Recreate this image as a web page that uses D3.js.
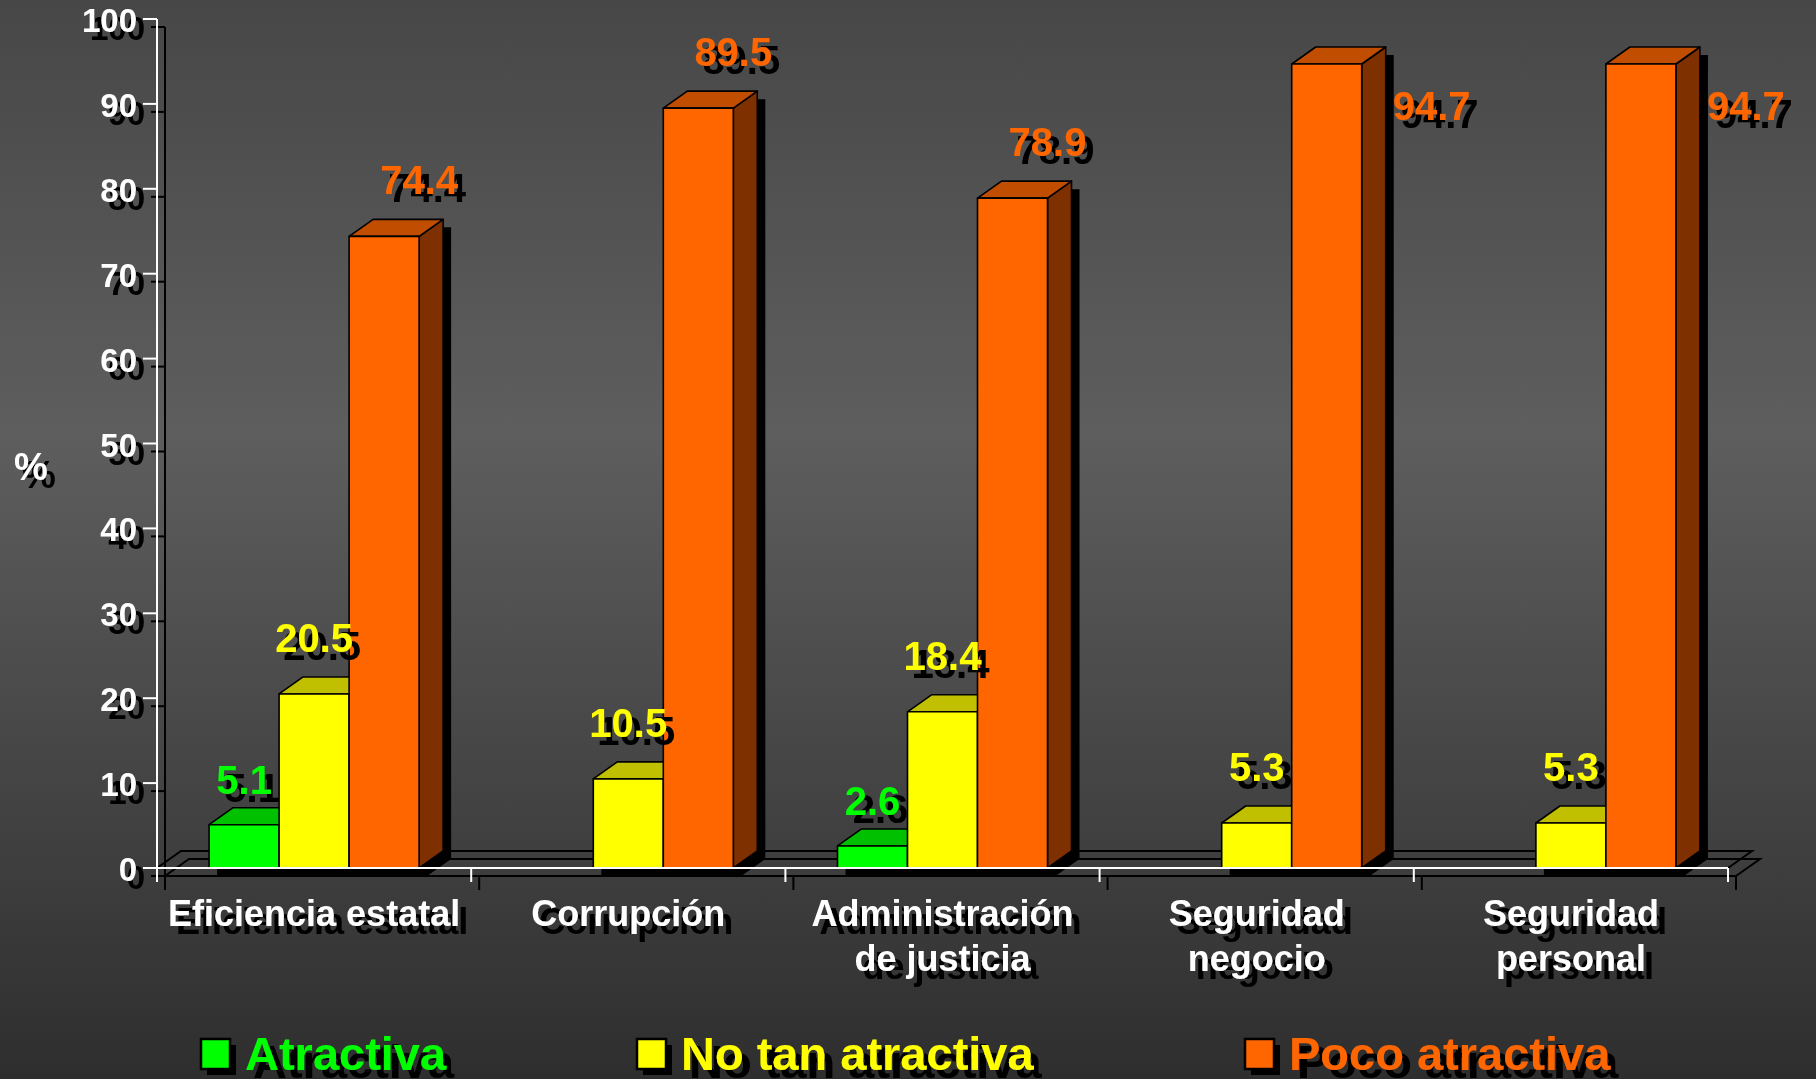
<!DOCTYPE html>
<html>
<head>
<meta charset="utf-8">
<script src="https://cdn.jsdelivr.net/npm/d3@7"></script>
<style>
  html, body { margin: 0; padding: 0; background: #3a3a3a; overflow: hidden; }
  svg { display: block; }
  text { font-family: "Liberation Sans", Arial, sans-serif; font-weight: bold; }
</style>
</head>
<body>
<script>
// Data
const categories = ['Eficiencia estatal', 'Corrupción', 'Administración\nde justicia', 'Seguridad\nnegocio', 'Seguridad\npersonal'];
const seriesNames = ['Atractiva', 'No tan atractiva', 'Poco atractiva'];
const atractiva = [5.1, null, 2.6, null, null];
const noTanAtractiva = [20.5, 10.5, 18.4, 5.3, 5.3];
const pocoAtractiva = [74.4, 89.5, 78.9, 94.7, 94.7];
const yTicks = [0, 10, 20, 30, 40, 50, 60, 70, 80, 90, 100];

const seriesValues = [atractiva, noTanAtractiva, pocoAtractiva];

// Colors: front, top, side
const colors = [
  { front: '#00ff00', top: '#00c000', side: '#008000' },
  { front: '#ffff00', top: '#c0c000', side: '#808000' },
  { front: '#ff6600', top: '#c04d00', side: '#7f3000' }
];

// Size
const w = 1816;
const h = 1079;
const dx = 24;   // depth offset x
const dy = -17;  // depth offset y
const sh = 8;    // shadow offset

const svg = d3.select('body').append('svg').attr('width', w).attr('height', h);
const defs = svg.append('defs');

// Background gradient
const grad = defs.append('linearGradient')
  .attr('id', 'bg').attr('x1', 0).attr('y1', 0).attr('x2', 0).attr('y2', 1);
grad.append('stop').attr('offset', '0%').attr('stop-color', '#474747');
grad.append('stop').attr('offset', '40%').attr('stop-color', '#5e5e5e');
grad.append('stop').attr('offset', '100%').attr('stop-color', '#2e2e2e');

// Text shadow filter (solid black copy, offset)
const f = defs.append('filter').attr('id', 'shadow')
  .attr('x', '-20%').attr('y', '-30%').attr('width', '160%').attr('height', '180%');
f.append('feOffset').attr('in', 'SourceAlpha').attr('dx', sh).attr('dy', sh).attr('result', 'off');
const fm = f.append('feMerge');
fm.append('feMergeNode').attr('in', 'off');
fm.append('feMergeNode').attr('in', 'SourceGraphic');

svg.append('rect').attr('width', w).attr('height', h).attr('fill', 'url(#bg)');

// Scales
const x = d3.scaleBand().domain(categories).range([157, 1728]).paddingInner(0).paddingOuter(0);
const xs = d3.scaleBand().domain(seriesNames).range([0, x.bandwidth()])
  .paddingInner(0).paddingOuter(0.744);
const y = d3.scaleLinear().domain([0, 100]).range([868, 19]);

const x0 = x.range()[0];
const x1 = x.range()[1];
const y0 = y(0);

// Floor (shadow then line)
const floorPts = [[x0, y0], [x0 + dx, y0 + dy], [x1 + dx, y0 + dy], [x1, y0]];
[sh, 0].forEach(o => {
  svg.append('polyline')
    .attr('points', floorPts.map(p => [p[0] + o, p[1] + o].join(',')).join(' '))
    .attr('fill', 'none').attr('stroke', '#000').attr('stroke-width', 2);
});

// Flatten bars
const bars = [];
categories.forEach((c, i) => {
  seriesNames.forEach((s, j) => {
    const v = seriesValues[j][i];
    if (v == null) return;
    bars.push({ cat: c, series: s, j: j, value: v, x: x(c) + xs(s), w: xs.bandwidth(), yt: y(v) });
  });
});

const silhouette = d => [
  [d.x, y0], [d.x, d.yt], [d.x + dx, d.yt + dy], [d.x + d.w + dx, d.yt + dy],
  [d.x + d.w + dx, y0 + dy], [d.x + d.w, y0]
];
const pts = arr => arr.map(p => p.join(',')).join(' ');

// Bar shadows
svg.append('g').selectAll('polygon')
  .data(bars).join('polygon')
  .attr('points', d => pts(silhouette(d).map(p => [p[0] + sh, p[1] + sh])))
  .attr('fill', '#000');

// Bars
const barG = svg.append('g').selectAll('g').data(bars).join('g')
  .attr('stroke', '#000').attr('stroke-width', 1.6).attr('stroke-linejoin', 'round');

barG.append('polygon')
  .attr('points', d => pts([[d.x + d.w, d.yt], [d.x + d.w + dx, d.yt + dy], [d.x + d.w + dx, y0 + dy], [d.x + d.w, y0]]))
  .attr('fill', d => colors[d.j].side);
barG.append('polygon')
  .attr('points', d => pts([[d.x, d.yt], [d.x + dx, d.yt + dy], [d.x + d.w + dx, d.yt + dy], [d.x + d.w, d.yt]]))
  .attr('fill', d => colors[d.j].top);
barG.append('rect')
  .attr('x', d => d.x).attr('y', d => d.yt)
  .attr('width', d => d.w).attr('height', d => y0 - d.yt)
  .attr('fill', d => colors[d.j].front);

// Axes: shadow (black, offset) then white
[{ o: sh, c: '#000' }, { o: 0, c: '#fff' }].forEach(a => {
  const g = svg.append('g').attr('transform', `translate(${a.o},${a.o})`)
    .attr('stroke', a.c).attr('stroke-width', 2).attr('fill', 'none');
  g.append('line').attr('x1', x0).attr('x2', x0).attr('y1', y(100)).attr('y2', y0 + 14);
  g.append('line').attr('x1', x0 - 14).attr('x2', x1).attr('y1', y0).attr('y2', y0);
  g.selectAll('.yt').data(yTicks).join('line')
    .attr('x1', x0 - 14).attr('x2', x0).attr('y1', d => y(d)).attr('y2', d => y(d));
  const bounds = categories.map(c => x(c)).concat([x1]);
  g.selectAll('.xt').data(bounds).join('line')
    .attr('x1', d => d).attr('x2', d => d).attr('y1', y0).attr('y2', y0 + 14);
});

// Text with drop shadow
function shadowText(parent, xp, yp, str, size, color, anchor) {
  return parent.append('text').attr('x', xp).attr('y', yp).attr('font-size', size)
    .attr('text-anchor', anchor).attr('fill', color).attr('filter', 'url(#shadow)').text(str);
}

// Y tick labels
const labelG = svg.append('g');
yTicks.forEach(t => shadowText(labelG, 137, y(t) + 13, String(t), 33, '#fff', 'end'));

// % label
shadowText(labelG, 31, 480, '%', 38, '#fff', 'middle');

// Category labels
categories.forEach(c => {
  const cx = x(c) + x.bandwidth() / 2;
  c.split('\n').forEach((line, k) => {
    shadowText(labelG, cx, 926 + k * 45, line, 36, '#fff', 'middle');
  });
});

// Value labels
const labelGap = [31, 42, 42];
bars.forEach(d => {
  const str = d3.format('.1f')(d.value);
  if (d.value > 90) {
    shadowText(labelG, d.x + d.w + dx + 7, d.yt + 56, str, 40, colors[d.j].front, 'start');
  } else {
    const cx = d.x + d.w / 2 + (d.j === 2 ? d.w / 2 : 0);
    shadowText(labelG, cx, d.yt - labelGap[d.j], str, 40, colors[d.j].front, 'middle');
  }
});

// Legend
const legendX = [201, 637, 1245];
const legG = svg.append('g');
seriesNames.forEach((s, j) => {
  const lx = legendX[j];
  legG.append('rect').attr('x', lx + 6).attr('y', 1039 + 6).attr('width', 29).attr('height', 30).attr('fill', '#000');
  legG.append('rect').attr('x', lx).attr('y', 1039).attr('width', 29).attr('height', 30)
    .attr('fill', colors[j].front).attr('stroke', '#000').attr('stroke-width', 2.5);
  shadowText(legG, lx + 44, 1070, s, 47, colors[j].front, 'start');
});
</script>
</body>
</html>
